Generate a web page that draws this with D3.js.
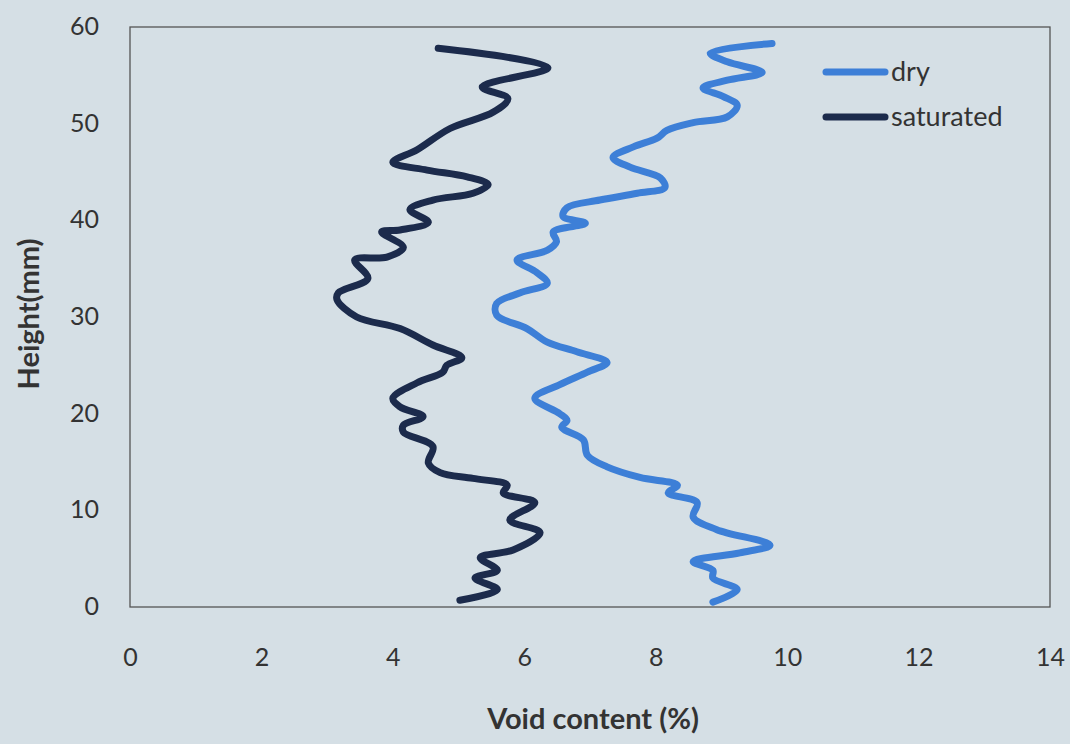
<!DOCTYPE html>
<html>
<head>
<meta charset="utf-8">
<script src="https://cdn.jsdelivr.net/npm/d3@7"></script>
<style>
  html, body { margin: 0; padding: 0; background: #d5dfe5; }
  svg { display: block; }
  text { font-family: Lato, "Open Sans", sans-serif; fill: #333; }
</style>
</head>
<body>
<svg id="chart" width="1070" height="744"></svg>
<script>
// Void content (%) against specimen height (mm)
const dryVoid = [9.77, 8.83, 9.09, 9.62, 9.09, 8.72, 9.03, 9.24, 9.09, 8.57, 8.17, 8.02, 7.66, 7.35, 7.61, 8.07, 8.14, 7.72, 7.15, 6.65, 6.59, 6.93, 6.44, 6.49, 6.35, 5.89, 6.19, 6.35, 5.94, 5.58, 5.58, 6.04, 6.35, 6.80, 7.26, 6.96, 6.54, 6.16, 6.54, 6.65, 6.57, 6.90, 6.96, 7.26, 7.76, 8.33, 8.19, 8.63, 8.57, 8.93, 9.74, 9.28, 8.57, 8.87, 8.87, 9.24, 8.87];
const dryHeight = [58.3, 57.3, 56.4, 55.3, 54.5, 53.7, 52.8, 51.9, 50.7, 50.1, 49.3, 48.5, 47.6, 46.5, 45.5, 44.4, 43.4, 42.8, 42.1, 41.3, 40.4, 39.7, 38.8, 37.8, 36.9, 35.9, 34.6, 33.5, 32.5, 31.4, 30.2, 28.8, 27.4, 26.4, 25.3, 24.3, 23.0, 21.6, 20.0, 19.3, 18.6, 17.3, 15.7, 14.5, 13.4, 12.6, 11.8, 10.8, 9.3, 8.0, 6.4, 5.6, 4.7, 3.8, 3.0, 1.8, 0.5];

const satVoid = [4.69, 6.36, 5.36, 5.75, 5.53, 4.87, 4.37, 4.00, 4.52, 5.13, 5.45, 5.22, 4.61, 4.26, 4.54, 4.11, 3.83, 4.16, 3.91, 3.42, 3.62, 3.17, 3.15, 3.45, 4.11, 4.61, 5.05, 4.82, 4.76, 4.37, 4.00, 4.11, 4.46, 4.16, 4.16, 4.61, 4.54, 4.72, 5.22, 5.74, 5.68, 6.16, 5.78, 6.24, 5.83, 5.33, 5.59, 5.25, 5.59, 5.02];
const satHeight = [57.8, 55.8, 53.8, 52.6, 51.2, 49.5, 47.3, 46.0, 45.2, 44.5, 43.7, 42.8, 42.1, 41.1, 39.8, 39.0, 38.8, 37.2, 36.2, 35.9, 34.0, 32.5, 31.8, 30.0, 28.8, 27.1, 25.8, 25.0, 24.3, 23.2, 21.6, 20.7, 19.7, 18.8, 18.1, 16.6, 14.9, 13.9, 13.3, 12.6, 11.8, 10.8, 9.0, 7.7, 5.9, 5.1, 3.8, 3.0, 1.8, 0.7];

const xTicks = [0, 2, 4, 6, 8, 10, 12, 14];
const yTicks = [0, 10, 20, 30, 40, 50, 60];

const seriesNames = ["dry", "saturated"];
const seriesColors = ["#3d7fd7", "#1c2b4c"];

const svg = d3.select("#chart");
const plot = { left: 130, right: 1050, top: 27, bottom: 607 };

const x = d3.scaleLinear().domain([0, 14]).range([plot.left, plot.right]);
const y = d3.scaleLinear().domain([0, 60]).range([plot.bottom, plot.top]);

// Plot frame
svg.append("rect")
  .attr("x", plot.left).attr("y", plot.top)
  .attr("width", plot.right - plot.left).attr("height", plot.bottom - plot.top)
  .attr("fill", "none").attr("stroke", "#555").attr("stroke-width", 1.3);

// Axes (labels only, no tick marks)
const xAxis = d3.axisBottom(x).tickValues(xTicks).tickSize(0).tickPadding(0).tickFormat(d3.format("d"));
svg.append("g").attr("transform", `translate(0, ${plot.bottom + 50})`).call(xAxis)
  .call(g => g.select(".domain").remove())
  .call(g => g.attr("font-size", 25).attr("font-family", "Lato, 'Open Sans', sans-serif"))
  .selectAll("text").attr("fill", "#333").attr("dy", "0.35em");

const yAxis = d3.axisLeft(y).tickValues(yTicks).tickSize(0).tickPadding(0).tickFormat(d3.format("d"));
svg.append("g").attr("transform", `translate(${plot.left - 31}, 0)`).call(yAxis)
  .call(g => g.select(".domain").remove())
  .call(g => g.attr("font-size", 25).attr("font-family", "Lato, 'Open Sans', sans-serif"))
  .selectAll("text").attr("fill", "#333").attr("dy", "0.3em");

// Axis titles
svg.append("text").attr("x", 593).attr("y", 729).attr("text-anchor", "middle")
  .attr("font-size", 29).attr("font-weight", "bold").text("Void content (%)");
svg.append("text").attr("transform", "translate(39, 314) rotate(-90)").attr("text-anchor", "middle")
  .attr("font-size", 29).attr("font-weight", "bold").text("Height(mm)");

// Smoothed profile lines
const line = d3.line().x(d => x(d[0])).y(d => y(d[1])).curve(d3.curveCatmullRom.alpha(0.5));
const series = [d3.zip(dryVoid, dryHeight), d3.zip(satVoid, satHeight)];

series.forEach((pts, i) => {
  svg.append("path").datum(pts)
    .attr("d", line)
    .attr("fill", "none")
    .attr("stroke", seriesColors[i])
    .attr("stroke-width", 7)
    .attr("stroke-linejoin", "round")
    .attr("stroke-linecap", "round");
});

// Legend
const legend = svg.append("g");
seriesNames.forEach((name, i) => {
  const ly = 72 + i * 45;
  legend.append("line").attr("x1", 826).attr("x2", 885).attr("y1", ly).attr("y2", ly)
    .attr("stroke", seriesColors[i]).attr("stroke-width", 7).attr("stroke-linecap", "round");
  legend.append("text").attr("x", 891).attr("y", ly).attr("dy", "0.33em")
    .attr("font-size", 27).text(name);
});
</script>
</body>
</html>
